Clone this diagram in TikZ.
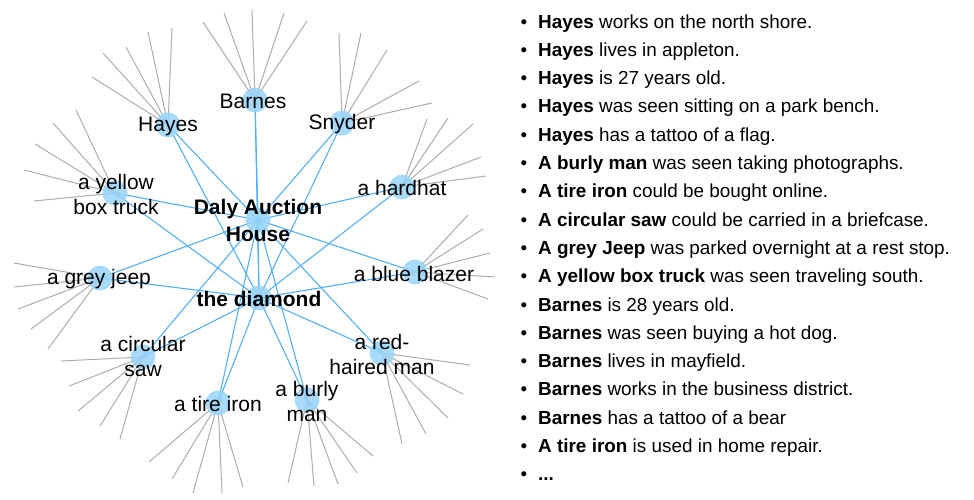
\documentclass[tikz,border=0pt]{standalone}
\usepackage{fontspec}
\setmainfont{Liberation Sans}
\definecolor{dotblue}{RGB}{152,212,250}
\definecolor{edgeblue}{RGB}{82,176,250}
\definecolor{raygray}{RGB}{172,172,172}
\begin{document}
\begin{tikzpicture}[x=1pt,y=-1pt,
  dot/.style={circle,fill=dotblue,fill opacity=0.85,minimum size=25pt,inner sep=0pt},
  lab/.style={font=\fontsize{21}{25}\selectfont,align=center,inner sep=0pt},
  hublab/.style={font=\fontsize{21}{27}\selectfont\bfseries,align=center,inner sep=0pt},
  edgeln/.style={draw=edgeblue,line width=1.1pt},
  rayln/.style={draw=raygray,line width=1pt,shorten <=-5pt},
  item/.style={font=\fontsize{18.9}{22}\selectfont,anchor=base west,inner sep=0pt},
  bul/.style={font=\fontsize{18.8}{22}\selectfont,anchor=base,inner sep=0pt}]
\useasboundingbox (0,0) rectangle (974,499);
% node positions
\coordinate (dalyc) at (258,220);
\coordinate (diamc) at (259,298);
\coordinate (hayesc) at (168,125);
\coordinate (barnesc) at (255,100);
\coordinate (snyderc) at (342,123);
\coordinate (hardhatc) at (402,187);
\coordinate (truckc) at (115,193);
\coordinate (jeepc) at (100,278);
\coordinate (sawc) at (143,357);
\coordinate (tirec) at (218,403);
\coordinate (burlyc) at (307,400);
\coordinate (redc) at (382,353);
\coordinate (blazerc) at (415,272);
% gray rays
\foreach \p/\i/\x/\y in {
 hayes/1/92/77, hayes/2/103/53, hayes/3/126/47, hayes/4/148/32, hayes/5/172/28,
 barnes/1/203/22, barnes/2/224/13, barnes/3/252/10, barnes/4/284/13, barnes/5/307/21,
 snyder/1/339/33, snyder/2/361/33, snyder/3/387/50, snyder/4/419/81, snyder/5/432/103,
 hardhat/1/427/119, hardhat/2/448/118, hardhat/3/473/124, hardhat/4/481/157, hardhat/5/486/176,
 truck/1/76/110, truck/2/53/123, truck/3/35/144, truck/4/24/170, truck/5/34/201,
 jeep/1/14/263, jeep/2/14/287, jeep/3/18/309, jeep/4/31/329, jeep/5/48/349,
 saw/1/61/361, saw/2/69/386, saw/3/78/411, saw/4/100/426, saw/5/120/439,
 tire/1/149/462, tire/2/172/479, tire/3/193/493, tire/4/222/493, tire/5/243/487,
 burly/1/288/483, burly/2/314/486, burly/3/338/484, burly/4/357/473, burly/5/373/456,
 red/1/470/365, red/2/463/394, red/3/448/418, red/4/426/434, red/5/402/444,
 blazer/1/468/215, blazer/2/483/229, blazer/3/490/253, blazer/4/495/277, blazer/5/488/299}
 {\coordinate (\p f\i) at (\x,\y);
  \draw[rayln] (\p c) -- (\p f\i);}
% blue edges
\foreach \p in {hayes,barnes,snyder,hardhat,truck,jeep,saw,tire,burly,red,blazer}
 {\draw[edgeln] (\p c) -- (dalyc);
  \draw[edgeln] (\p c) -- (diamc);}
\draw[edgeln] (dalyc) -- (diamc);
% circles
\foreach \p in {daly,diam,hayes,barnes,snyder,hardhat,truck,jeep,saw,tire,burly,red,blazer}
 {\node[dot] (\p) at (\p c) {};}
% labels
\node[hublab] (dalyl) at (258,220) {Daly Auction\\House};
\node[hublab] (diaml) at (259,299) {the diamond};
\node[lab] (hayesl) at (168,126) {Hayes};
\node[lab] (barnesl) at (253,101) {Barnes};
\node[lab] (snyderl) at (342,124) {Snyder};
\node[lab] (hardhatl) at (402,188) {a hardhat};
\node[lab] (truckl) at (116,194) {a yellow\\box truck};
\node[lab] (jeepl) at (99,279) {a grey jeep};
\node[lab] (sawl) at (143,356) {a circular\\saw};
\node[lab] (tirel) at (218,404) {a tire iron};
\node[lab] (burlyl) at (307,401) {a burly\\man};
\node[lab] (redl) at (382,354) {a red-\\haired man};
\node[lab] (blazerl) at (414,274) {a blue blazer};
% list
\foreach \n [count=\k] in {1,...,17}
 {\node[bul] (b\k) at (524,{28+(\k-1)*28.3}) {•};}
\node[item] (l1) at (538,28) {\textbf{Hayes} works on the north shore.};
\node[item] (l2) at (538,56.3) {\textbf{Hayes} lives in appleton.};
\node[item] (l3) at (538,84.6) {\textbf{Hayes} is 27 years old.};
\node[item] (l4) at (538,112.9) {\textbf{Hayes} was seen sitting on a park bench.};
\node[item] (l5) at (538,141.2) {\textbf{Hayes} has a tattoo of a flag.};
\node[item] (l6) at (538,169.5) {\textbf{A burly man} was seen taking photographs.};
\node[item] (l7) at (538,197.8) {\textbf{A tire iron} could be bought online.};
\node[item] (l8) at (538,226.1) {\textbf{A circular saw} could be carried in a briefcase.};
\node[item] (l9) at (538,254.4) {\textbf{A grey Jeep} was parked overnight at a rest stop.};
\node[item] (l10) at (538,282.7) {\textbf{A yellow box truck} was seen traveling south.};
\node[item] (l11) at (538,311) {\textbf{Barnes} is 28 years old.};
\node[item] (l12) at (538,339.3) {\textbf{Barnes} was seen buying a hot dog.};
\node[item] (l13) at (538,367.6) {\textbf{Barnes} lives in mayfield.};
\node[item] (l14) at (538,395.9) {\textbf{Barnes} works in the business district.};
\node[item] (l15) at (538,424.2) {\textbf{Barnes} has a tattoo of a bear};
\node[item] (l16) at (538,452.5) {\textbf{A tire iron} is used in home repair.};
\node[item] (l17) at (538,480.8) {\textbf{...}};
\end{tikzpicture}
\end{document}
